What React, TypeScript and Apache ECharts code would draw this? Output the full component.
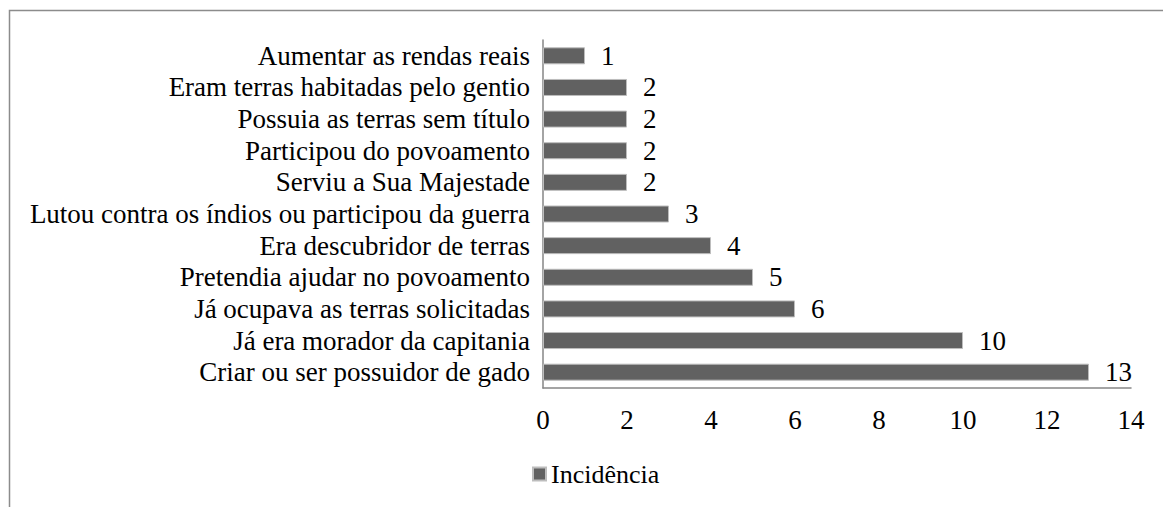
import React, { useEffect, useRef } from "react";
import * as echarts from "echarts";

const categories = [
  "Criar ou ser possuidor de gado",
  "Já era morador da capitania",
  "Já ocupava as terras solicitadas",
  "Pretendia ajudar no povoamento",
  "Era descubridor de terras",
  "Lutou contra os índios ou participou da guerra",
  "Serviu a Sua Majestade",
  "Participou do povoamento",
  "Possuia as terras sem título",
  "Eram terras habitadas pelo gentio",
  "Aumentar as rendas reais",
];
const values = [13, 10, 6, 5, 4, 3, 2, 2, 2, 2, 1];
const seriesName = "Incidência";

const FONT = "Times New Roman";
const FS = 27;

const css = `#root svg text { font-family: "Times New Roman", "Liberation Serif", serif !important; }`;

export default function App() {
  const ref = useRef<HTMLDivElement>(null);
  useEffect(() => {
    document.body.style.margin = "0";
    const chart = echarts.init(ref.current!, null, { renderer: "svg" });
    chart.setOption({
      animation: false,
      backgroundColor: "#ffffff",
      graphic: [
        {
          type: "rect",
          shape: { x: 9.5, y: 10.5, width: 1300, height: 700 },
          style: { fill: "none", stroke: "#8c8c8c", lineWidth: 1.5 },
          silent: true,
        },
      ],
      grid: { left: 543, top: 40, right: 32, bottom: 119, containLabel: false },
      legend: {
        data: [seriesName],
        left: 527,
        top: 456,
        itemWidth: 13,
        itemHeight: 13,
        icon: "rect",
        textStyle: { fontFamily: FONT, fontSize: 26, color: "#000" },
      },
      xAxis: {
        type: "value",
        min: 0,
        max: 14,
        interval: 2,
        axisLine: { show: true, lineStyle: { color: "#868686", width: 1.5 } },
        axisTick: { show: false },
        splitLine: { show: false },
        axisLabel: { fontFamily: FONT, fontSize: FS, color: "#000", margin: 18 },
      },
      yAxis: {
        type: "category",
        data: categories,
        axisLine: { show: true, lineStyle: { color: "#868686", width: 1.5 } },
        axisTick: { show: false },
        axisLabel: { interval: 0, fontFamily: FONT, fontSize: FS, color: "#000", margin: 13 },
      },
      series: [
        {
          name: seriesName,
          type: "bar",
          data: values,
          barWidth: 17,
          itemStyle: { color: "#616161", borderColor: "#bdbdbd", borderWidth: 1 },
          label: {
            show: true,
            position: "right",
            distance: 16,
            fontFamily: FONT,
            fontSize: FS,
            color: "#000",
          },
        },
      ],
    });
    return () => chart.dispose();
  }, []);
  return (
    <>
      <style>{css}</style>
      <div ref={ref} style={{ width: 1163, height: 507 }} />
    </>
  );
}
